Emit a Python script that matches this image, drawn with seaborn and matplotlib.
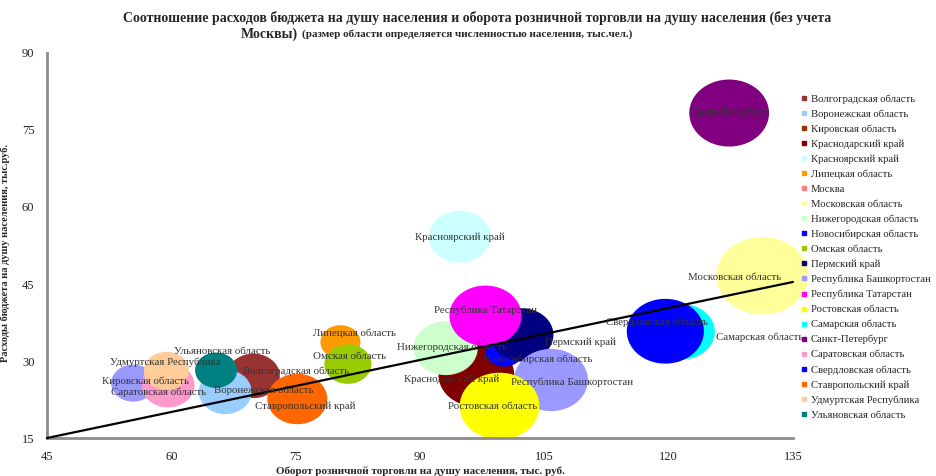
"""Bubble chart: budget spending vs retail turnover per capita (regions of Russia)."""
import matplotlib

matplotlib.use("Agg")
import matplotlib.pyplot as plt
import numpy as np
import pandas as pd
import seaborn as sns
from matplotlib.lines import Line2D
from matplotlib.path import Path

# ---- data ----
regions = [
    "Волгоградская область", "Воронежская область", "Кировская область",
    "Краснодарский край", "Красноярский край", "Липецкая область", "Москва",
    "Московская область", "Нижегородская область", "Новосибирская область",
    "Омская область", "Пермский край", "Республика Башкортостан",
    "Республика Татарстан", "Ростовская область", "Самарская область",
    "Санкт-Петербург", "Саратовская область", "Свердловская область",
    "Ставропольский край", "Удмуртская Республика", "Ульяновская область",
]
# retail turnover per capita, thousand rub (x)
turnover = [69.9, 66.5, 55.4, 96.8, 94.8, 80.4, np.nan, 131.3, 93.1, 100.2, 81.3,
            102.3, 105.8, 97.9, 99.6, 121.6, 127.3, 59.6, 119.6, 75.2, 59.4, 65.4]
# budget spending per capita, thousand rub (y)
spending = [27.1, 24.0, 25.7, 27.3, 54.2, 33.7, np.nan, 46.6, 32.5, 32.1, 29.4,
            35.1, 26.3, 38.8, 21.2, 35.7, 78.3, 25.3, 35.8, 22.6, 28.1, 28.2]
# population, thousand people (bubble size)
population = [2050, 2050, 1420, 4200, 2800, 1170, 10400, 6200, 3000, 1100, 1620,
              2900, 4000, 3800, 4650, 3180, 4650, 2050, 4350, 2630, 1480, 1290]

trend_x = [45, 135]
trend_y = [15, 45.4]

bubble_colors = [
    "#993333", "#99CCFF", "#9999FF", "#800000", "#CCFFFF", "#FF9900", "#FF8080",
    "#FFFF99", "#CCFFCC", "#0000FF", "#99CC00", "#000080", "#9999FF", "#FF00FF",
    "#FFFF00", "#00FFFF", "#800080", "#FF99CC", "#0000FF", "#FF6600", "#FFCC99",
    "#008080",
]
legend_colors = list(bubble_colors)
legend_colors[2] = "#993300"

# label offsets from bubble centre, in pixels (dx, dy up)
label_offsets = {
    "Волгоградская область": (43, 5), "Воронежская область": (39, 2),
    "Кировская область": (12, 2), "Краснодарский край": (-25, -4),
    "Красноярский край": (0, 0), "Липецкая область": (14, 9),
    "Московская область": (-28, -2), "Нижегородская область": (6, 1),
    "Новосибирская область": (33, -9), "Омская область": (2, 8),
    "Пермский край": (59, -7), "Республика Башкортостан": (21, -2),
    "Республика Татарстан": (0, 6), "Ростовская область": (-7, 0),
    "Самарская область": (78, -6), "Санкт-Петербург": (0, 1),
    "Саратовская область": (-9, -7), "Свердловская область": (-8, 9),
    "Ставропольский край": (8, -7), "Удмуртская Республика": (-1, 9),
    "Ульяновская область": (6, 19),
}

df = pd.DataFrame({"region": regions, "x": turnover, "y": spending, "pop": population})
plot_df = df.dropna()

sns.set_theme(style="white")
plt.rcParams["font.family"] = ["Liberation Serif", "DejaVu Serif"]

fig = plt.figure(figsize=(9.36, 4.76), dpi=100)
ax = fig.add_axes([0.0502, 0.0798, 0.7970, 0.8089])

# slightly wide ellipse marker, like the stretched Excel bubbles
t = np.linspace(0, 2 * np.pi, 60)
ellipse = Path(np.column_stack([np.cos(t), 0.84 * np.sin(t)]), closed=True)

pmax = max(population)
sns.scatterplot(
    data=plot_df, x="x", y="y", hue="region", size="pop",
    palette=dict(zip(regions, bubble_colors)),
    sizes=(0, 0.71 * pmax), size_norm=(0, pmax),
    marker=ellipse, linewidth=0, alpha=1, legend=False, ax=ax, clip_on=False, zorder=2,
)

ax.plot(trend_x, trend_y, color="black", lw=1.6, zorder=3, clip_on=False)

for _, r in plot_df.iterrows():
    dx, dy = label_offsets.get(r["region"], (0, 0))
    txt = ax.annotate(r["region"], (r["x"], r["y"]), xytext=(dx, dy),
                      textcoords="offset pixels", ha="center", va="center",
                      fontsize=7.8, color="#333333", zorder=4)
    if r["region"] == "Самарская область":
        txt.set_clip_on(True)

ax.set_xlim(45, 135)
ax.set_ylim(15, 90)
ax.set_xticks(np.arange(45, 136, 15))
ax.set_yticks(np.arange(15, 91, 15))
ax.tick_params(axis="both", labelsize=9, labelcolor="#222222", color="#808080",
               length=3, width=1, direction="out", pad=6)
for side in ["top", "right"]:
    ax.spines[side].set_visible(False)
for side in ["left", "bottom"]:
    ax.spines[side].set_color("#8c8c8c")
    ax.spines[side].set_linewidth(2)
ax.grid(False)

ax.set_xlabel("Оборот розничной торговли на душу населения, тыс. руб.",
              fontsize=8, fontweight="bold")
ax.xaxis.set_label_coords(0.5, -0.075)
ax.set_ylabel("Расходы бюджета на душу населения, тыс.руб.",
              fontsize=7.5, fontweight="bold")
ax.yaxis.set_label_coords(-0.05, 0.48)

fig.text(477 / 936, 1 - 18 / 476,
         "Соотношение расходов бюджета на душу населения и оборота розничной торговли на душу населения (без учета",
         ha="center", va="center", fontsize=10, fontweight="bold")
fig.text(298 / 936, 1 - 34 / 476, "Москвы)", ha="right", va="center",
         fontsize=10, fontweight="bold")
fig.text(302 / 936, 1 - 34 / 476,
         "(размер области определяется численностью населения, тыс.чел.)",
         ha="left", va="center", fontsize=8, fontweight="bold")

handles = [Line2D([], [], marker="s", ls="", markersize=3.5, color=c) for c in legend_colors]
fig.legend(handles, regions, loc="upper left", bbox_to_anchor=(801 / 936, 1 - 94 / 476),
           frameon=False, fontsize=7.7, labelspacing=0.52, handlelength=0.6,
           handletextpad=0.3, borderaxespad=0, borderpad=0)

fig.savefig("out.png", dpi=100)
